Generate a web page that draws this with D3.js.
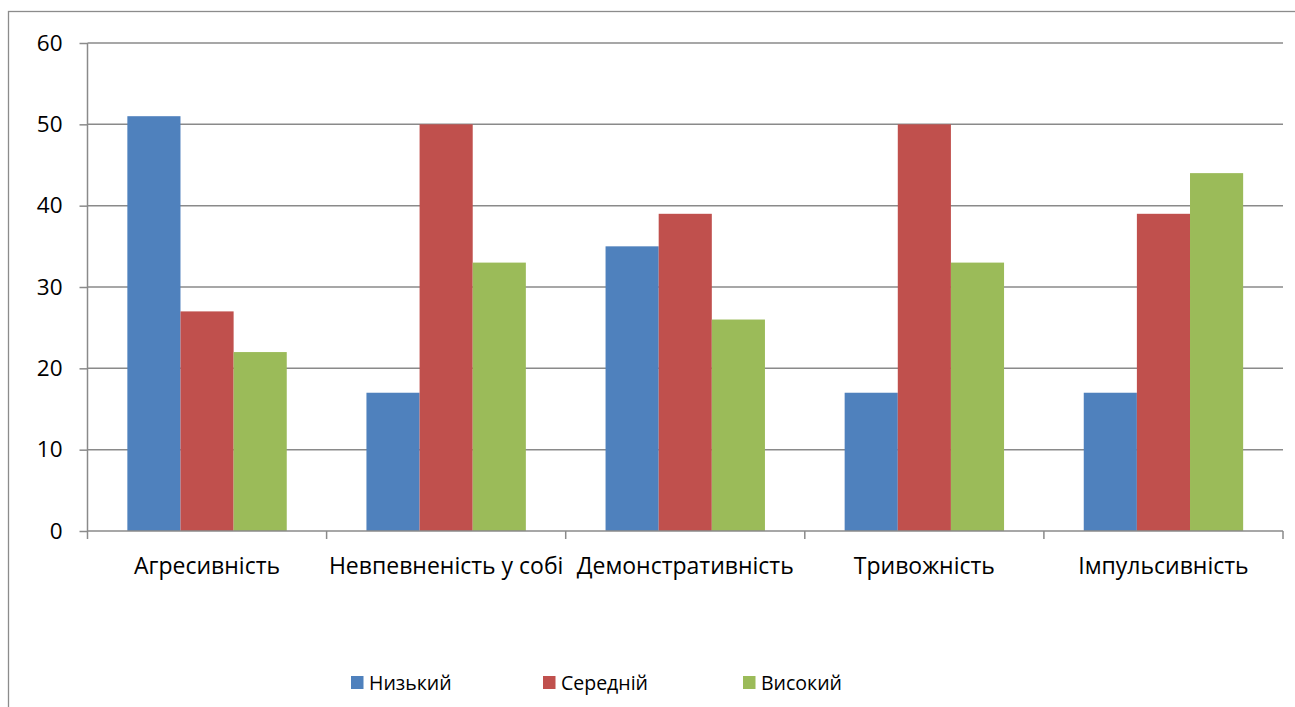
<!DOCTYPE html>
<html>
<head>
<meta charset="utf-8">
<script src="https://cdn.jsdelivr.net/npm/d3@7"></script>
<style>
  html, body { margin: 0; padding: 0; background: #fff; }
  svg { display: block; font-family: "Open Sans", "Noto Sans", sans-serif; }
</style>
</head>
<body>
<svg id="chart" width="1295" height="707"></svg>
<script>
// Categories along the x axis
const categories = ["Агресивність", "Невпевненість у собі", "Демонстративність", "Тривожність", "Імпульсивність"];
// Series names (levels)
const seriesNames = ["Низький", "Середній", "Високий"];
// Values per series, in category order
const lowValues = [51, 17, 35, 17, 17];
const midValues = [27, 50, 39, 50, 39];
const highValues = [22, 33, 26, 33, 44];
// Y axis ticks
const yTicks = [0, 10, 20, 30, 40, 50, 60];

const seriesValues = [lowValues, midValues, highValues];
const colors = ["#4F81BD", "#C0504D", "#9BBB59"];

const svg = d3.select("#chart");
const margin = { left: 87.5, right: 1283, top: 43, bottom: 531 };

// Outer chart frame (extends past the right/bottom edge of the page)
svg.append("rect")
  .attr("x", 8.5).attr("y", 11.5)
  .attr("width", 1400).attr("height", 800)
  .attr("fill", "none").attr("stroke", "#8c8c8c").attr("stroke-width", 1.3);

const x0 = d3.scaleBand().domain(categories).range([margin.left, margin.right]).paddingInner(0).paddingOuter(0);
// Excel-style gap width of 150% => bars occupy 3/(3+1.5) of each band
const gapRatio = 1.5 / (3 + 1.5);
const x1 = d3.scaleBand().domain(d3.range(seriesNames.length))
  .range([x0.bandwidth() * gapRatio / 2, x0.bandwidth() * (1 - gapRatio / 2)]).padding(0);
const y = d3.scaleLinear().domain([0, 60]).range([margin.bottom, margin.top]);

// Horizontal gridlines
svg.append("g").selectAll("line").data(yTicks.filter(d => d > 0)).join("line")
  .attr("x1", margin.left).attr("x2", margin.right)
  .attr("y1", d => y(d)).attr("y2", d => y(d))
  .attr("stroke", "#8a8a8a").attr("stroke-width", 1.5);

// Bars
const groups = svg.append("g").selectAll("g").data(categories).join("g")
  .attr("transform", d => `translate(${x0(d)},0)`);
groups.selectAll("rect").data((c, ci) => seriesValues.map((s, si) => ({ si, v: s[ci] }))).join("rect")
  .attr("x", d => x1(d.si))
  .attr("width", x1.bandwidth())
  .attr("y", d => y(d.v))
  .attr("height", d => y(0) - y(d.v))
  .attr("fill", d => colors[d.si]);

// Y axis
const yAxis = d3.axisLeft(y).tickValues(yTicks).tickSize(8).tickPadding(17);
const gy = svg.append("g").attr("transform", `translate(${margin.left},0)`).call(yAxis);
gy.select(".domain").attr("stroke", "#8a8a8a").attr("stroke-width", 1.5).attr("d", `M0,${margin.top}V${margin.bottom}`);
gy.selectAll(".tick line").attr("stroke", "#8a8a8a").attr("stroke-width", 1.5);
gy.selectAll(".tick text").attr("font-size", 22.5).attr("fill", "#000").attr("font-family", "Open Sans, sans-serif");

// X axis line with ticks at category boundaries
const gx = svg.append("g");
gx.append("line").attr("x1", margin.left).attr("x2", margin.right)
  .attr("y1", y(0)).attr("y2", y(0)).attr("stroke", "#8a8a8a").attr("stroke-width", 1.5);
const boundaries = categories.map(c => x0(c)).concat([x0(categories[categories.length - 1]) + x0.bandwidth()]);
gx.selectAll("line.tk").data(boundaries).join("line").attr("class", "tk")
  .attr("x1", d => d).attr("x2", d => d)
  .attr("y1", y(0)).attr("y2", y(0) + 8)
  .attr("stroke", "#8a8a8a").attr("stroke-width", 1.5);
gx.selectAll("text").data(categories).join("text")
  .attr("x", d => x0(d) + x0.bandwidth() / 2)
  .attr("y", y(0) + 43)
  .attr("text-anchor", "middle")
  .attr("font-size", 23)
  .attr("fill", "#000")
  .text(d => d);

// Legend
const legendX = [351, 543, 743];
const legend = svg.append("g").selectAll("g").data(seriesNames).join("g")
  .attr("transform", (d, i) => `translate(${legendX[i]},676)`);
legend.append("rect").attr("width", 12.5).attr("height", 13).attr("fill", (d, i) => colors[i]);
legend.append("text").attr("x", 18).attr("y", 14).attr("font-size", 19.5).attr("fill", "#000").text(d => d);
</script>
</body>
</html>
